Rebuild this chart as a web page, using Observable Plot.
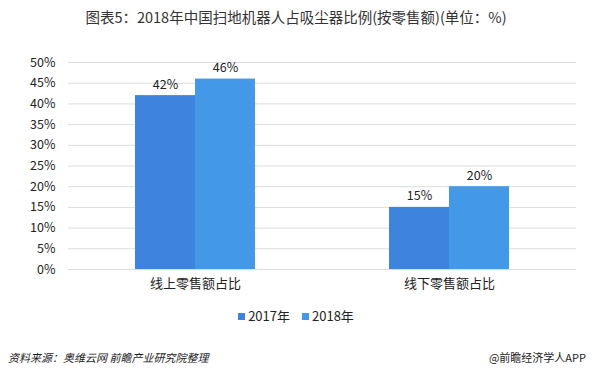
<!DOCTYPE html>
<html><head><meta charset="utf-8">
<script src="https://cdn.jsdelivr.net/npm/d3@7"></script>
<script src="https://cdn.jsdelivr.net/npm/@observablehq/plot@0.6"></script>
<style>
body{margin:0;background:#fff;font-family:"Noto Sans CJK SC","Noto Sans",sans-serif;width:592px;height:380px;overflow:hidden;position:relative}
#title{position:absolute;top:6px;left:0;width:592px;text-align:center;font-size:14.5px;color:#333;}
#chart{position:absolute;top:40px;left:0}
#legend{position:absolute;top:306px;left:0;width:592px;text-align:center;font-size:13px;color:#222}
#legend span.sw{display:inline-block;width:7px;height:7px;margin-right:3px;vertical-align:1px}
#source{position:absolute;top:349px;left:8px;font-size:11px;font-style:italic;color:#222}
#app{position:absolute;top:349px;right:6px;font-size:11px;color:#222}
</style></head><body>
<div id="title">图表5：2018年中国扫地机器人占吸尘器比例(按零售额)(单位：%)</div>
<div id="chart"></div>
<div id="legend"></div>
<div id="source">资料来源：奥维云网 前瞻产业研究院整理</div>
<div id="app">@前瞻经济学人APP</div>
<script>
const categories = ["线上零售额占比", "线下零售额占比"];
const seriesNames = ["2017年", "2018年"];
const values2017 = [42, 15];
const values2018 = [46, 20];
const yTicks = [0, 5, 10, 15, 20, 25, 30, 35, 40, 45, 50];
const colors = ["#3E83DE", "#4399E8"];

const data = [];
categories.forEach((c, i) => {
  data.push({cat: c, series: seriesNames[0], v: values2017[i]});
  data.push({cat: c, series: seriesNames[1], v: values2018[i]});
});

const plot = Plot.plot({
  width: 592, height: 259,
  marginLeft: 67, marginRight: 16, marginTop: 22, marginBottom: 30,
  style: {fontFamily: '"Noto Sans CJK SC", sans-serif', fontSize: "12px", color: "#222", background: "transparent"},
  fx: {domain: categories, padding: 0, label: null, axis: null},
  x: {domain: seriesNames, paddingInner: 0, paddingOuter: 0.52 / 0.48, axis: null},
  y: {domain: [0, 50], ticks: yTicks, tickFormat: d => d + "%", label: null},
  color: {domain: seriesNames, range: colors},
  marks: [
    Plot.gridY(yTicks, {stroke: "#dcdcdc", strokeOpacity: 1}),
    Plot.barY(data, {fx: "cat", x: "series", y: "v", fill: "series"}),
    Plot.text(data, {fx: "cat", x: "series", y: "v", text: d => d.v + "%", dy: -11, fontSize: 12.5, fill: "#222"}),
    Plot.axisFx({tickSize: 0, tickPadding: 9, fontSize: 13, label: null, anchor: "bottom"}),
    Plot.axisY({ticks: yTicks, tickFormat: d => d + "%", tickSize: 0, tickPadding: 13, label: null, fontSize: 12.5})
  ]
});
document.getElementById("chart").appendChild(plot);

const lg = document.getElementById("legend");
lg.innerHTML = seriesNames.map((s, i) =>
  `<span style="margin:0 6px"><span class="sw" style="background:${colors[i]}"></span>${s}</span>`).join("");
</script>
</body></html>
